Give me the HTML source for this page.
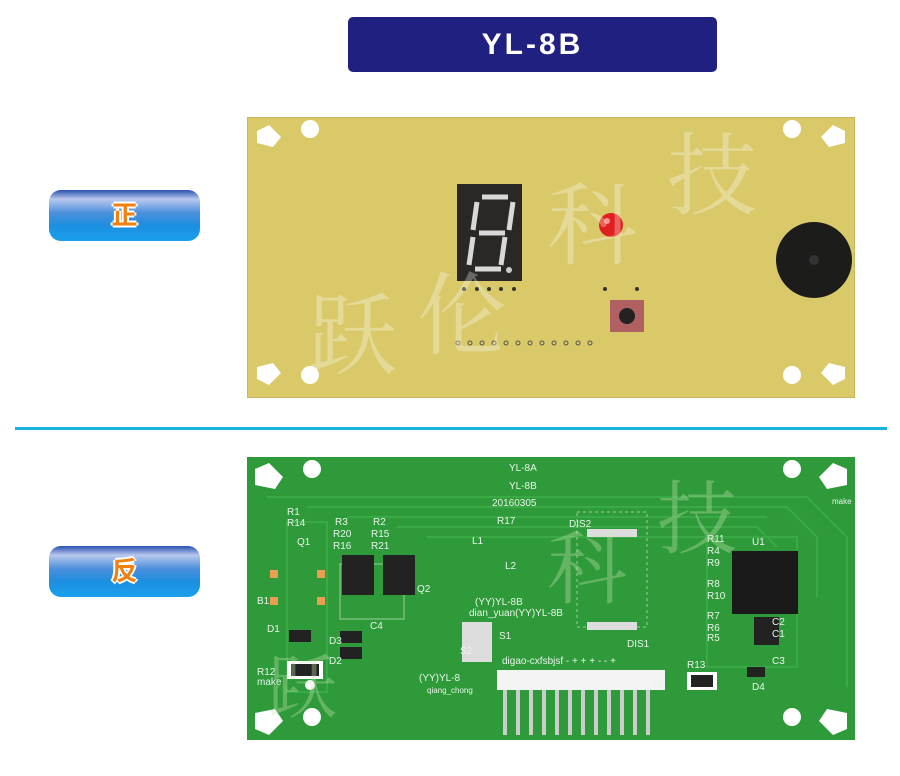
<!DOCTYPE html>
<html><head><meta charset="utf-8"><style>
body{margin:0;width:900px;height:776px;background:#fff;position:relative;overflow:hidden;font-family:"Liberation Sans","Noto Sans CJK SC",sans-serif}
.a{position:absolute}
.title{left:348px;top:17px;width:369px;height:55px;background:#1f2080;border-radius:5px;color:#fff;font-weight:bold;font-size:30px;text-align:center;line-height:55px;letter-spacing:3px}
.btn{left:49px;width:151px;height:51px;border-radius:12px;background:linear-gradient(#2a4fb0 0%,#b8c8ee 18%,#4b8fdc 45%,#1c8fe0 70%,#1aa0ec 100%);text-align:center;line-height:51px;font-size:26px;font-weight:bold;color:#f08010;text-shadow:-2px 0 #fff,2px 0 #fff,0 -2px #fff,0 2px #fff}
.wm{color:rgba(255,255,255,0.25);font-family:"Noto Serif CJK SC",serif;font-size:90px}
.lbl{color:#e8f5e8;font-size:10px}
</style></head><body>
<div class="a title">YL-8B</div>
<div class="a btn" style="top:190px">正</div>
<div class="a btn" style="top:546px">反</div>
<div class="a" style="left:15px;top:427px;width:872px;height:3px;background:#1ab0e0"></div>

<svg class="a" style="left:247px;top:117px" width="608" height="281">
<rect width="608" height="281" fill="#d9c969"/>
<rect width="608" height="281" fill="none" stroke="#c9b65a" stroke-width="2"/>
<circle cx="63" cy="12" r="9" fill="#fff"/><circle cx="545" cy="12" r="9" fill="#fff"/>
<circle cx="63" cy="258" r="9" fill="#fff"/><circle cx="545" cy="258" r="9" fill="#fff"/>
<path d="M10 14 l12-6 l12 12 l-8 10 l-16-4z" fill="#fff"/><path d="M598 14 l-12-6 l-12 12 l8 10 l16-4z" fill="#fff"/>
<path d="M10 262 l12 6 l12-12 l-8-10 l-16 4z" fill="#fff"/><path d="M598 262 l-12 6 l-12-12 l8-10 l16 4z" fill="#fff"/>
<rect x="210" y="67" width="65" height="97" fill="#2a2825"/>
<g stroke="#d8d8d8" stroke-width="5" fill="none"><path d="M235 80h26M230 85l-4 28M266 85l-4 28M232 116h26M226 120l-4 28M258 120l-4 28M228 152h26"/></g>
<circle cx="262" cy="153" r="3" fill="#ccc"/>
<circle cx="364" cy="108" r="12" fill="#e02020"/><circle cx="360" cy="104" r="3" fill="#ff9090"/>
<rect x="363" y="183" width="34" height="32" fill="#b06060"/><circle cx="380" cy="199" r="8" fill="#222"/>
<circle cx="567" cy="143" r="38" fill="#1c1c1a"/><circle cx="567" cy="143" r="5" fill="#333"/>
<g fill="#333"><circle cx="217" cy="172" r="2"/><circle cx="230" cy="172" r="2"/><circle cx="242" cy="172" r="2"/><circle cx="254" cy="172" r="2"/><circle cx="267" cy="172" r="2"/><circle cx="358" cy="172" r="2"/><circle cx="390" cy="172" r="2"/></g>
<g fill="none" stroke="#555"><circle cx="211" cy="226" r="2"/><circle cx="223" cy="226" r="2"/><circle cx="235" cy="226" r="2"/><circle cx="247" cy="226" r="2"/><circle cx="259" cy="226" r="2"/><circle cx="271" cy="226" r="2"/><circle cx="283" cy="226" r="2"/><circle cx="295" cy="226" r="2"/><circle cx="307" cy="226" r="2"/><circle cx="319" cy="226" r="2"/><circle cx="331" cy="226" r="2"/><circle cx="343" cy="226" r="2"/></g>
<text x="60" y="250" class="wm" fill="rgba(255,255,255,0.3)" font-size="90" font-family="Noto Serif CJK SC,serif">跃</text>
<text x="170" y="230" fill="rgba(255,255,255,0.3)" font-size="90" font-family="Noto Serif CJK SC,serif">伦</text>
<text x="300" y="140" fill="rgba(255,255,255,0.3)" font-size="90" font-family="Noto Serif CJK SC,serif">科</text>
<text x="420" y="90" fill="rgba(255,255,255,0.3)" font-size="90" font-family="Noto Serif CJK SC,serif">技</text>
</svg>

<svg class="a" style="left:247px;top:457px" width="608" height="283" font-family="Liberation Sans,sans-serif">
<rect width="608" height="283" fill="#2e9a3a"/>
<g fill="none" stroke="#3aaa46" stroke-width="2">
<path d="M20 40h540l40 40v150"/><path d="M60 50h480l30 30v60"/><path d="M100 60h420"/><path d="M150 70h360l20 20"/><path d="M180 80h320"/>
<rect x="40" y="65" width="40" height="170"/><rect x="460" y="80" width="90" height="130"/>
</g>
<circle cx="65" cy="12" r="9" fill="#fff"/><circle cx="545" cy="12" r="9" fill="#fff"/>
<circle cx="65" cy="260" r="9" fill="#fff"/><circle cx="545" cy="260" r="9" fill="#fff"/>
<circle cx="63" cy="228" r="5" fill="#fff"/>
<path d="M8 12 l14-6 l14 14 l-8 12 l-20-4z" fill="#fff"/><path d="M600 12 l-14-6 l-14 14 l8 12 l20-4z" fill="#fff"/>
<path d="M8 272 l14 6 l14-14 l-8-12 l-20 4z" fill="#fff"/><path d="M600 272 l-14 6 l-14-14 l8-12 l20 4z" fill="#fff"/>
<rect x="93" y="107" width="64" height="55" fill="none" stroke="#9ccf9e"/>
<rect x="23" y="113" width="8" height="8" fill="#e8a050"/><rect x="70" y="113" width="8" height="8" fill="#e8a050"/><rect x="23" y="140" width="8" height="8" fill="#e8a050"/><rect x="70" y="140" width="8" height="8" fill="#e8a050"/>
<rect x="95" y="98" width="32" height="40" fill="#222"/><rect x="136" y="98" width="32" height="40" fill="#222"/>
<rect x="42" y="173" width="22" height="12" fill="#222"/><rect x="93" y="174" width="22" height="12" fill="#222"/><rect x="93" y="190" width="22" height="12" fill="#222"/>
<rect x="40" y="204" width="36" height="18" fill="#fff"/><rect x="44" y="207" width="28" height="12" fill="#222"/>
<rect x="485" y="94" width="66" height="63" fill="#1a1a1a"/>
<rect x="507" y="160" width="25" height="28" fill="#222"/>
<rect x="440" y="215" width="30" height="18" fill="#fff"/><rect x="444" y="218" width="22" height="12" fill="#222"/>
<rect x="500" y="210" width="18" height="10" fill="#222"/>
<rect x="250" y="213" width="168" height="20" fill="#f4f4f4"/>
<g stroke="#ccc" stroke-width="4"><path d="M258 233v45M271 233v45M284 233v45M297 233v45M310 233v45M323 233v45M336 233v45M349 233v45M362 233v45M375 233v45M388 233v45M401 233v45"/></g>
<rect x="330" y="55" width="70" height="115" fill="none" stroke="#9ccf9e" stroke-dasharray="3 3"/>
<g fill="#ddd"><rect x="340" y="72" width="50" height="8"/><rect x="340" y="165" width="50" height="8"/><rect x="215" y="165" width="30" height="40"/></g>
<g class="lbl" fill="#e8f5e8" font-size="10">
<text x="262" y="14">YL-8A</text><text x="262" y="32">YL-8B</text><text x="245" y="49">20160305</text>
<text x="250" y="67">R17</text><text x="322" y="70">DIS2</text><text x="380" y="190">DIS1</text>
<text x="505" y="88">U1</text><text x="585" y="47" font-size="8">make</text>
<text x="228" y="148">(YY)YL-8B</text><text x="222" y="159">dian_yuan(YY)YL-8B</text>
<text x="255" y="207">digao-cxfsbjsf - + + + - - +</text><text x="172" y="224">(YY)YL-8</text><text x="180" y="236" font-size="8">qiang_chong</text>
<text x="20" y="175">D1</text><text x="82" y="187">D3</text><text x="82" y="207">D2</text><text x="10" y="218">R12</text><text x="10" y="228">make</text><text x="10" y="147">B1</text>
<text x="40" y="58">R1</text><text x="40" y="69">R14</text><text x="50" y="88">Q1</text>
<text x="88" y="68">R3</text><text x="86" y="80">R20</text><text x="86" y="92">R16</text><text x="126" y="68">R2</text><text x="124" y="80">R15</text><text x="124" y="92">R21</text>
<text x="170" y="135">Q2</text><text x="123" y="172">C4</text><text x="252" y="182">S1</text><text x="213" y="197">S2</text><text x="225" y="87">L1</text><text x="258" y="112">L2</text>
<text x="460" y="85">R11</text><text x="460" y="97">R4</text><text x="460" y="109">R9</text><text x="460" y="130">R8</text><text x="460" y="142">R10</text><text x="460" y="162">R7</text><text x="460" y="174">R6</text><text x="460" y="184">R5</text>
<text x="525" y="168">C2</text><text x="525" y="180">C1</text><text x="525" y="207">C3</text><text x="505" y="233">D4</text><text x="440" y="211">R13</text><text x="405" y="231">J1</text>
</g>
<text x="20" y="255" fill="rgba(200,230,180,0.35)" font-size="70" font-family="Noto Serif CJK SC,serif">跃</text>
<text x="300" y="140" fill="rgba(200,230,180,0.35)" font-size="80" font-family="Noto Serif CJK SC,serif">科</text>
<text x="410" y="90" fill="rgba(200,230,180,0.35)" font-size="80" font-family="Noto Serif CJK SC,serif">技</text>
</svg>
</body></html>
